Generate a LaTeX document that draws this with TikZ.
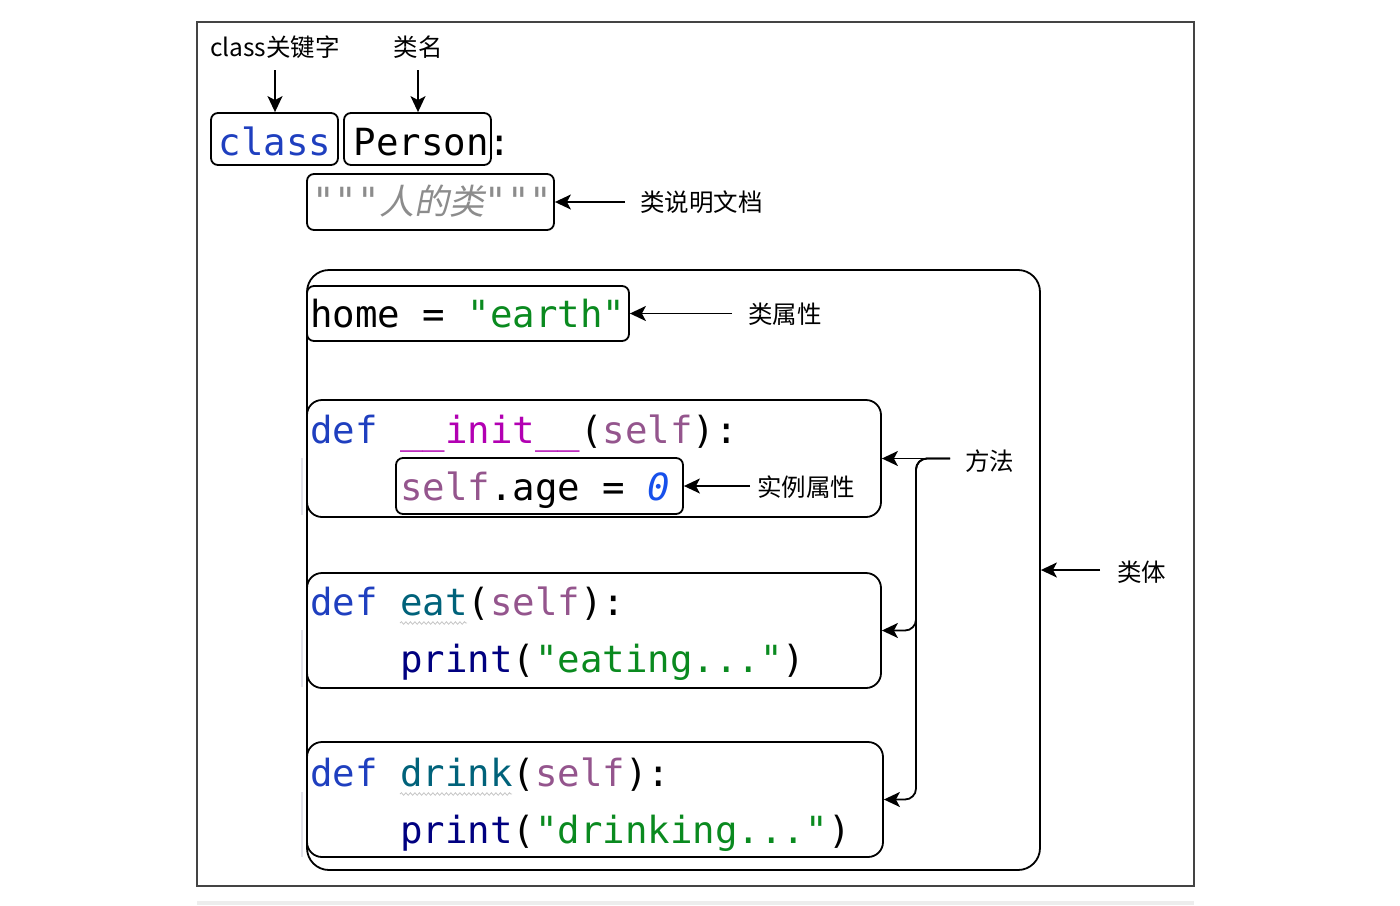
\documentclass[tikz,border=0pt]{standalone}
\usepackage{fontspec}
\setmonofont{DejaVu Sans Mono}[ItalicFont={DejaVu Sans Mono Oblique}]
\newfontfamily\cjk{Noto Sans CJK SC}
\newfontfamily\cjkit{Noto Sans CJK SC}[FakeSlant=0.2]
\usetikzlibrary{arrows.meta,decorations.pathmorphing}
\definecolor{kw}{HTML}{1F3FBF}
\definecolor{strc}{HTML}{0A8A1F}
\definecolor{magc}{HTML}{B200B2}
\definecolor{slfc}{HTML}{94558D}
\definecolor{numc}{HTML}{1750EB}
\definecolor{fnc}{HTML}{00627A}
\definecolor{prc}{HTML}{000080}
\definecolor{docc}{HTML}{8C8C8C}
\definecolor{framec}{HTML}{444444}
\definecolor{gutc}{HTML}{E2E2EA}
\tikzset{
  cbox/.style={draw=black, line width=1.8pt, rounded corners=7pt, inner sep=0pt},
  bigbox/.style={draw=black, line width=1.8pt, rounded corners=15pt, inner sep=0pt},
  code/.style={anchor=base west, inner sep=0pt, font=\ttfamily\fontsize{37.4}{44}\selectfont},
  lab/.style={inner sep=0pt, text height=17pt, text depth=5pt, font=\cjk\fontsize{24.5}{28}\selectfont},
  arr/.style={-{Stealth[length=16pt,width=15pt,inset=4pt]}, line width=1.8pt},
  wavy/.style={draw=gray!45, line width=0.8pt, decorate, decoration={snake, amplitude=1.3pt, segment length=4.5pt}},
  gutter/.style={draw=gutc, line width=2pt}
}
\begin{document}
\begin{tikzpicture}[x=1pt,y=-1pt]
\useasboundingbox (0,0) rectangle (1400,905);
% outer frame and bottom band
\draw[framec, line width=1.4pt] (197,22) rectangle (1194,886);
\fill[gray!14] (197,901) rectangle (1194,905);

% gutter marks
\draw[gutter] (302,458) -- (302,515);
\draw[gutter] (302,630) -- (302,687);
\draw[gutter] (302,792) -- (302,857);

% boxes
\node[cbox, minimum width=127pt, minimum height=52pt] (bclass) at (274.5,139) {};
\node[cbox, minimum width=147pt, minimum height=52pt] (bperson) at (417.5,139) {};
\node[cbox, minimum width=247pt, minimum height=56pt] (bdoc) at (430.5,202) {};
\node[draw=black, line width=1.8pt, rounded corners=22pt, inner sep=0pt, minimum width=733pt, minimum height=600pt] (body) at (673.5,570) {};
\node[cbox, minimum width=322pt, minimum height=55pt] (bhome) at (468,313.5) {};
\node[bigbox, minimum width=574pt, minimum height=117pt] (binit) at (594,458.5) {};
\node[cbox, minimum width=287pt, minimum height=56pt] (bage) at (539.5,486) {};
\node[bigbox, minimum width=574pt, minimum height=115pt] (beat) at (594,630.5) {};
\node[bigbox, minimum width=576pt, minimum height=115pt] (bdrink) at (595,799.5) {};

% code text
\node[code] (t1) at (218.5,155) {{\color{kw}class} Person:};
\node[code] (t2) at (312,214) {\color{docc}{\itshape """}{\cjkit\fontsize{35}{40}\selectfont 人的类}{\itshape """}};
\node[code] (t3) at (310,327) {home = {\color{strc}"earth"}};
\node[code] (t4) at (310,443) {{\color{kw}def} {\color{magc}\_\_init\_\_}({\color{slfc}self}):};
\node[code] (t5) at (400,500) {{\color{slfc}self}.age = {\color{numc}\itshape 0}};
\node[code] (t6) at (310,615) {{\color{kw}def} {\color{fnc}eat}({\color{slfc}self}):};
\node[code] (t7) at (400,672) {{\color{prc}print}({\color{strc}"eating..."})};
\node[code] (t8) at (310,786) {{\color{kw}def} {\color{fnc}drink}({\color{slfc}self}):};
\node[code] (t9) at (400,843) {{\color{prc}print}({\color{strc}"drinking..."})};

% spell-check underlines
\draw[wavy] (400,623) -- (467,623);
\draw[wavy] (400,794) -- (512,794);

% labels
\node[lab] (lclass) at (275,50) {class关键字};
\node[lab] (lname) at (418,50) {类名};
\node[lab, anchor=west] (ldoc) at (640,205) {类说明文档};
\node[lab, anchor=west] (lhome) at (748,317) {类属性};
\node[lab, anchor=west] (lage) at (757,490) {实例属性};
\node[lab, anchor=west] (lmeth) at (965,464) {方法};
\node[lab, anchor=west] (lbody) at (1117,575) {类体};

% arrows
\draw[arr, shorten <=9pt] (lclass.south) -- (lclass.south |- bclass.north);
\draw[arr, shorten <=9pt] (lname.south) -- (lname.south |- bperson.north);
\draw[arr, shorten <=15pt] (ldoc.west |- bdoc.east) -- (bdoc.east);
\draw[arr, shorten <=16pt] (lhome.west |- bhome.east) -- (bhome.east);
\draw[arr, shorten <=7pt] (lage.west |- bage.east) -- (bage.east);
\draw[arr, shorten <=17pt] (lbody.west |- body.east) -- (body.east);

\coordinate (mj) at (950,458.5);
\coordinate (mv) at (916,458.5);
\draw[arr] (mj) -- (binit.east);
\draw[arr, rounded corners=11pt] (mj) -- (mv) |- (beat.east);
\draw[arr, rounded corners=11pt] (mj) -- (mv) |- (bdrink.east);
\end{tikzpicture}
\end{document}
